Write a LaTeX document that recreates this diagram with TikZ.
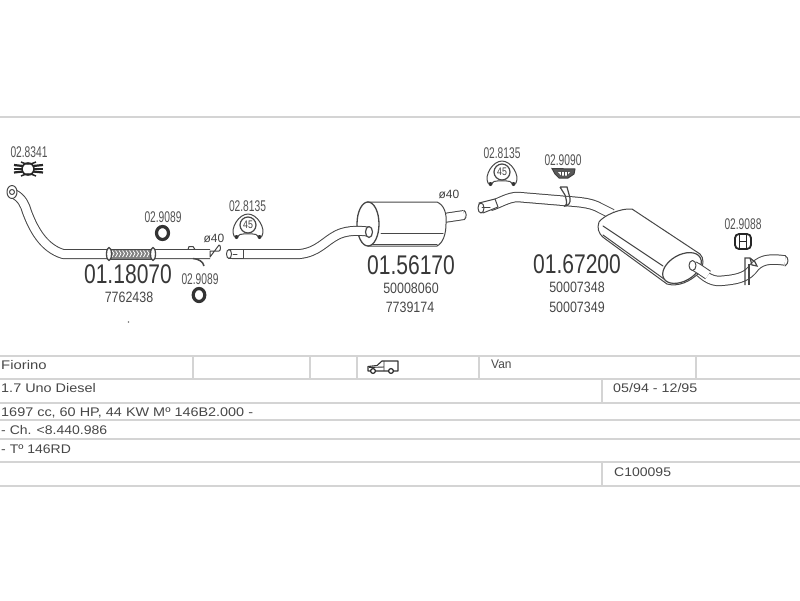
\documentclass[tikz,border=0pt]{standalone}
\usepackage{fontspec}
\setmainfont{Liberation Sans}
\tikzset{
  rule/.style={draw=black!17,line width=1.5pt},
  ln/.style={draw=black!72,line width=1pt,line join=round,line cap=round},
  pipe/.style={draw=black!72,line width=1pt,double=white,double distance=#1,line cap=butt,line join=round},
  pipe/.default=8pt,
  lab/.style={inner sep=0pt,text=black!68,transform shape,font=\fontsize{15.5}{16}\selectfont,xscale=.66},
  num/.style={inner sep=0pt,text=black!72,transform shape,font=\fontsize{15}{16}\selectfont,xscale=.83},
  big/.style={inner sep=0pt,text=black!78,transform shape,font=\fontsize{27}{29}\selectfont,xscale=.78},
  dia/.style={inner sep=0pt,text=black!75,font=\fontsize{12}{13}\selectfont},
  cell/.style={anchor=west,inner sep=0pt,text=black!72,transform shape,font=\fontsize{12.5}{14}\selectfont,xscale=1.12},
  ring/.style={draw=black!80,line width=3.2pt,fill=white},
  pics/bell/.style={code={
    \fill[white] (-15,11) .. controls (-17,2) and (-9,-11) .. (0,-11) .. controls (9,-11) and (17,2) .. (15,11) -- cycle;
    \draw[ln] (-14,11) .. controls (-18,3) and (-9,-11) .. (0,-11) .. controls (9,-11) and (18,3) .. (14,11) .. controls (11,13) and (9,11) .. (8,9.5) .. controls (4,8.5) and (-4,8.5) .. (-8,9.5) .. controls (-9,11) and (-11,13) .. (-14,11) -- cycle;
    \draw[ln,fill=white,line width=1.2pt] (0,0) circle[radius=8];
    \fill[black!80] (-11.5,12) circle[radius=2] (11.5,12) circle[radius=2];
    \node[inner sep=0pt,text=black!75,transform shape,xscale=.8,font=\fontsize{11}{12}\selectfont] at (0,0) {45};
  }}
}
\begin{document}
\begin{tikzpicture}[x=1pt,y=-1pt]
\useasboundingbox (0,0) rectangle (800,600);
% page rules
\foreach \yy in {117,356,379,403,420,439,462,486} \draw[rule] (0,\yy) -- (800,\yy);
\foreach \xx in {193,310,357,479,696} \draw[rule] (\xx,356) -- (\xx,379);
\draw[rule] (602,379) -- (602,403);
\draw[rule] (602,462) -- (602,486);

% --- front pipe 01.18070
\draw[pipe] (14,194) .. controls (22,198) and (25,205) .. (27,212) .. controls (33,228) and (43,248) .. (63,254) -- (210,254);
\draw[ln,fill=white] (210,251) -- (219,251) arc[start angle=90,end angle=-90,x radius=1.5,y radius=3] -- (210,257) -- cycle;
\draw[ln,fill=white] (12,192) ellipse[x radius=5,y radius=6.5];
\draw[ln] (12,192) circle[radius=2.5];
% flexible section
\draw[ln,fill=black!50] (110,249) rectangle (152,259);
\foreach \xx in {112,115.5,...,150} {
  \draw[white,line width=.8pt] (\xx,250.5) -- (\xx+2,253.5) -- (\xx,257);
}
\draw[ln,fill=white,line width=1.3pt] (109,254) ellipse[x radius=2.5,y radius=6.5];
\draw[ln,fill=white,line width=1.3pt] (153,254) ellipse[x radius=2.5,y radius=6.5];
% hanger on front pipe
\draw[ln] (188,249.5) -- (189,246.5) -- (193,246.5) -- (195,249.5);
\draw[draw=black!72,line width=1.5pt] (193,258.5) .. controls (198,259) and (203,261) .. (204,266);

% --- muffler 01.56170
\draw[pipe] (444,218) -- (464,215);
\draw[ln,fill=white] (464,210.5) .. controls (466.5,212) and (467,217) .. (464.5,219.5);
\draw[ln,fill=white] (367,202) -- (437,202) .. controls (444,205) and (447,213) .. (446,224) .. controls (446,234) and (443,243) .. (437,246) -- (368,246) -- cycle;
\draw[ln] (381,233) -- (443,233);
\draw[ln] (368,244.5) -- (437,244.5);
\draw[ln,fill=white,line width=1.3pt] (368,224) ellipse[x radius=11,y radius=22];
% --- intermediate pipe
\draw[pipe] (232,254) -- (300,254) .. controls (318,252) and (325,241) .. (337,235) .. controls (345,231) and (355,230) .. (368,231.5);
\draw[ln,fill=white,line width=1.2pt] (369,232) ellipse[x radius=3.5,y radius=5.5];
\draw[ln,fill=white] (229,254) ellipse[x radius=2.5,y radius=4.5];
\draw[ln] (229,249.5) -- (243,249.5) -- (243,258.5) -- (229,258.5);
\draw[ln] (233,254) -- (237,254);

% --- rear pipe and muffler 01.67200
\draw[pipe=8.5pt] (490,206) .. controls (500,203) and (508,197) .. (518,197) -- (560,200.5) .. controls (576,202) and (590,202) .. (600,208) -- (612,214);
\draw[ln,fill=white] (479,203) -- (495,199) -- (498,207) -- (483,213) -- cycle;
\draw[ln,fill=white] (481,208) ellipse[x radius=3,y radius=5];
\draw[ln] (482,207) -- (490,207);
% rear hanger
\draw[draw=black!72,line width=1.2pt] (560,187) -- (567,187) -- (570,198) .. controls (571,203) and (568,206) .. (565,206) .. controls (568,204) and (566,199) .. (565,195) -- (560,187);
% outlet pipe
\draw[pipe=8.5pt] (690,264) .. controls (700,270) and (705,280) .. (718,281) .. controls (735,280) and (745,278) .. (752,270) .. controls (759,260) and (768,258) .. (785,260.5);
\draw[ln] (785,255.5) .. controls (789,258) and (789,263) .. (785,266);
% muffler body
\draw[ln,fill=white] (599,222) .. controls (603,216) and (620,208) .. (632,209) -- (700,254) .. controls (704,258) and (704,265) .. (700,272) .. controls (690,282) and (678,287) .. (667,284) -- (604,238) .. controls (598,233) and (597,228) .. (599,222) -- cycle;
\draw[ln] (603,226) -- (663,266);
\draw[ln] (603,235) -- (664,279);
\draw[ln,fill=white,line width=1.2pt,rotate around={30:(682,268)}] (682,268) ellipse[x radius=21,y radius=13];
\draw[pipe=8pt] (694,266) .. controls (698,268) and (702,271) .. (708,275);
\draw[ln,fill=white] (692.5,265.5) ellipse[x radius=3.5,y radius=5];
% rear hanger 2
\draw[draw=black!72,line width=1.2pt] (745,285) -- (745,258) -- (750,258) -- (752,265) -- (757,266) -- (755,262) -- (750,258);
\draw[draw=black!72,line width=1.2pt] (749,285) -- (749,264);

% --- clamps
% 02.8341
\draw[black!85,line width=1.5pt] (21,162) .. controls (24,163.5) and (26,164) .. (28,164) .. controls (31,164) and (33,163.5) .. (36,162);
\draw[black!85,line width=1.5pt] (21,176) .. controls (24,174.5) and (26,174) .. (28,174) .. controls (31,174) and (33,174.5) .. (36,176);
\draw[black!85,line width=2.2pt] (14,165) -- (23,166) (14,172.5) -- (23,171.5);
\draw[black!85,line width=2.2pt] (33,166) -- (43,165) (33,171.5) -- (43,172.5);
\draw[black!85,line width=1.6pt] (14,169) -- (22,169) (34,169) -- (43,169);
\draw[black!85,line width=1.6pt] (28,169) circle[radius=6];
\draw (248,225) pic {bell};
\draw (502,172) pic {bell};
\draw[ring] (162.5,233) ellipse[x radius=6,y radius=6.5];
\draw[ring] (199,295) ellipse[x radius=5.8,y radius=6.5];
% 02.9090
\draw[black!75,line width=1pt,fill=black!65] (552,168.5) -- (575,169) -- (574,174) -- (568,178) -- (559,178) -- (555,174) -- cycle;
\fill[white] (558,172) -- (570,172) -- (567,175.5) -- (561,175.5) -- cycle;
\draw[black!70,line width=.7pt] (561,171) -- (561,176) (564,171) -- (564,176) (567,171) -- (567,176);
% 02.9088
\draw[black!85,line width=1.8pt,fill=white,rounded corners=4pt] (735,234) rectangle (751,249);
\draw[black!85,line width=1.5pt] (739.5,235) -- (739.5,248) (746.5,235) -- (746.5,248) (739.5,241.5) -- (746.5,241.5);
% stray dot
\fill[black!55] (128.5,322) circle[radius=.9];

% --- part labels
\node[lab] (a1) at (29,152) {02.8341};
\node[lab] (a2) at (163,217) {02.9089};
\node[lab] (a3) at (200,279) {02.9089};
\node[lab] (a4) at (247.5,206) {02.8135};
\node[lab] (a5) at (502,153) {02.8135};
\node[lab] (a6) at (563,160) {02.9090};
\node[lab] (a7) at (743,224) {02.9088};
\node[dia] (d1) at (214,238) {ø40};
\node[dia] (d2) at (449,194) {ø40};
\node[big] (p1) at (128,274) {01.18070};
\node[num] (p1a) at (129,297) {7762438};
\node[big] (p2) at (411,265) {01.56170};
\node[num] (p2a) at (411,288) {50008060};
\node[num] (p2b) at (410,307) {7739174};
\node[big] (p3) at (577,264) {01.67200};
\node[num] (p3a) at (577,287) {50007348};
\node[num] (p3b) at (577,307) {50007349};

% --- van icon
\draw[black!80,line width=1.1pt,fill=white,line join=round] (368,370.5) -- (368,366.5) -- (377,365.5) -- (382,361) -- (398,361) -- (398,371) -- (368,371) -- cycle;
\draw[black!80,line width=.9pt] (369,367.5) -- (384,367) (384,361) -- (384,371);
\draw[black!85,line width=1.2pt,fill=white] (373,371) circle[radius=2.4] (391,371) circle[radius=2.4];

% --- table text
\node[cell,xscale=1.06] (t1) at (1,365) {Fiorino};
\node[cell,xscale=.85] (t2) at (491,364) {Van};
\node[cell,xscale=1.03] (t3) at (1,388.5) {1.7 Uno Diesel};
\node[cell,xscale=1.02] (t4) at (613,388.5) {05/94 - 12/95};
\node[cell,xscale=1.03] (t5) at (1,412.5) {1697 cc, 60 HP, 44 KW Mº 146B2.000 -};
\node[cell] (t6) at (1,430) {- Ch. <8.440.986};
\node[cell] (t7) at (1,449) {- Tº 146RD};
\node[cell] (t8) at (614,472) {C100095};
\end{tikzpicture}
\end{document}
